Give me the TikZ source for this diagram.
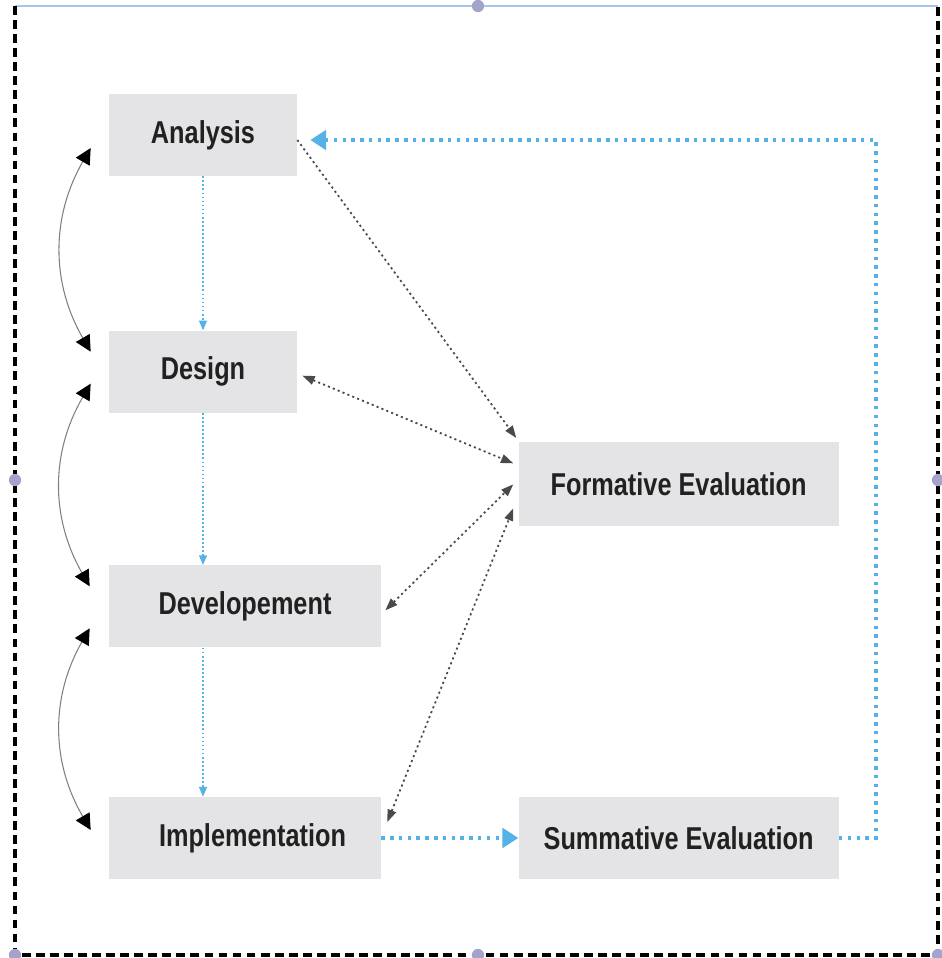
\documentclass[tikz,border=0pt]{standalone}
\usepackage{fontspec}
\newfontfamily\stagefont{Liberation Sans}[FakeStretch=0.8]
\usepackage{tikz}
\usetikzlibrary{positioning,arrows.meta,calc}
\definecolor{boxgray}{HTML}{E4E4E6}
\definecolor{flowblue}{HTML}{55B2E6}
\definecolor{evalgray}{HTML}{4A4A4A}
\definecolor{handlegray}{HTML}{A3A3CC}
\definecolor{selblue}{HTML}{A9C4EC}

\begin{document}
\begin{tikzpicture}[x=0.02cm, y=-0.02cm,
    >={Triangle[length=7pt, width=5pt]},
    stagebox/.style={rectangle, fill=boxgray, minimum height=1.64cm, text=black!87, font=\stagefont\bfseries\fontsize{18}{20}\selectfont},
    flowline/.style={flowblue, line width=0.8pt, dash pattern=on 1pt off 1.3pt, -{Triangle[length=5.5pt, width=4.5pt]}},
    returnline/.style={flowblue, line width=2.2pt, dash pattern=on 2pt off 3pt, -{Triangle[length=9pt, width=11pt]}},
    evalline/.style={evalgray, line width=1pt, dash pattern=on 1.2pt off 1.8pt},
    arcline/.style={black!50, line width=0.6pt, {Triangle[length=9pt, width=9pt, black]}-{Triangle[length=9pt, width=9pt, black]}},
    ]
    \useasboundingbox (0,0) rectangle (942,958);
    \fill[white] (0,0) rectangle (942,958);

    %Frame
    \draw[selblue, line width=0.6pt] (15,6) -- (938,6);
    \draw[black, line width=2pt, dash pattern=on 5pt off 3pt] (15,6) -- (15,955) -- (938,955) -- (938,6);
    \foreach \p in {(478,6),(15,480),(938,480),(478,955),(15,955),(938,955)}
        \fill[handlegray] \p circle (3.5pt);

    %Nodes
    \node[stagebox, minimum width=3.76cm]   (ana)   at (203,135)                                    {Analysis};
    \node[stagebox, minimum width=3.76cm]   (des)   [below=3.08cm of ana]                           {Design};
    \node[stagebox, minimum width=5.44cm]   (dev)   [below=3.04cm of des.south west, anchor=north west] {Developement};
    \node[stagebox, minimum width=5.44cm]   (imp)   [below=2.98cm of dev.south west, anchor=north west] {\hspace{0.3cm}Implementation};
    \node[stagebox, minimum width=6.4cm]    (sum)   [right=2.74cm of imp]                           {Summative Evaluation};
    \node[stagebox, minimum width=6.4cm, minimum height=1.68cm] (for) [above=5.4cm of sum]          {Formative Evaluation};
    \coordinate (corner) at (876,140);

    %Lines
    \draw[flowline] (ana) -- (des);
    \draw[flowline] (des.south) -- (des.south |- dev.north);
    \draw[flowline] (des.south |- dev.south) -- (des.south |- imp.north);
    \draw[returnline] (imp) -- (sum);
    \draw[returnline] (sum) -| (corner) -- ($(ana.east)+(13,5)$);

    \draw[evalline, ->] ($(ana.east)+(0,5)$) -- ($(for.north west)+(-2,-4)$);
    \draw[evalline, <->] ($(des.east)+(5,4)$) -- ($(for.west)+(-5,-21)$);
    \draw[evalline, <->] ($(dev.east)+(4,4)$) -- ($(for.west)+(-5,0)$);
    \draw[evalline, <->] ($(imp.east)+(6,-16)$) -- ($(for.west)+(-5,24)$);

    \draw[arcline] ($(ana.west)+(-18,13)$) to[bend right=30] ($(des.west)+(-18,-20)$);
    \draw[arcline] ($(des.west)+(-18,12)$) to[bend right=30] ($(dev.west)+(-19,-20)$);
    \draw[arcline] ($(dev.west)+(-19,22)$) to[bend right=30] ($(imp.west)+(-18,-8)$);
\end{tikzpicture}
\end{document}
